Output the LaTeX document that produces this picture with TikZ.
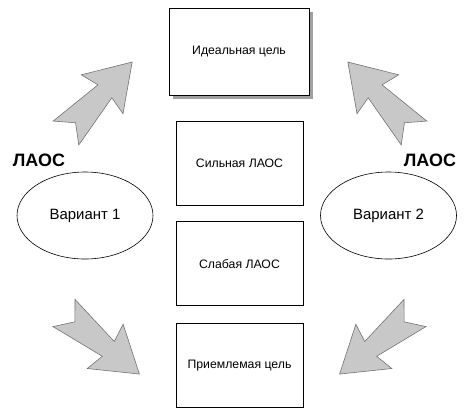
\documentclass[tikz,border=0pt]{standalone}
\usepackage{fontspec}
\setmainfont{Liberation Sans}
\usetikzlibrary{positioning,shapes.geometric,backgrounds}
\definecolor{shadowgray}{RGB}{160,160,160}
\definecolor{arrowfill}{RGB}{200,200,200}
\definecolor{arrowline}{RGB}{115,115,115}

\begin{document}
\begin{tikzpicture}[x=1bp,y=-1bp,
    goal/.style={draw,line width=0.8bp,minimum width=127bp,minimum height=84bp,
                 inner sep=0pt,fill=white,font=\fontsize{12.3}{14}\selectfont},
    variant/.style={draw,line width=0.6bp,ellipse,minimum width=136bp,
                    minimum height=87bp,inner sep=0pt,font=\fontsize{15}{17}\selectfont},
    laos/.style={font=\fontsize{18}{20}\selectfont\bfseries},
    blockarrow/.style={fill=arrowfill,draw=arrowline,line width=0.6bp}]
    \useasboundingbox (0,0) rectangle (472,413);
    % Ступени цели (центральная колонка)
    \node[goal] (strong) at (239.5,163) {Сильная ЛАОС};
    \node[goal,below=16bp of strong] (weak) {Слабая ЛАОС};
    \node[goal,below=17bp of weak] (accept) {Приемлемая цель};
    \node[goal,minimum width=140bp,minimum height=87bp] (ideal) at (239,51.5) {Идеальная цель};
    \begin{scope}[on background layer]
        \fill[shadowgray] ([shift={(4,4)}]ideal.north west) rectangle ([shift={(4,4)}]ideal.south east);
    \end{scope}
    % Варианты
    \node[variant] (var1) at (85,215.5) {Вариант 1};
    \node[variant] (var2) at (388.5,215.5) {Вариант 2};
    \node[laos] (laos1) at (39,160) {ЛАОС};
    \node[laos] (laos2) at (430,160) {ЛАОС};
    % Блочные стрелки
    \foreach \x/\y/\a in {66/133/47,414/133/133,64/313/-39,415/313/219}{
        \draw[blockarrow,shift={(\x,\y)},rotate=\a]
            (0,17.5) -- (57,9.5) -- (53,28.5) -- (97,0) -- (53,-28.5)
            -- (57,-9.5) -- (0,-17.5) -- (14,0) -- cycle;
    }
\end{tikzpicture}
\end{document}
